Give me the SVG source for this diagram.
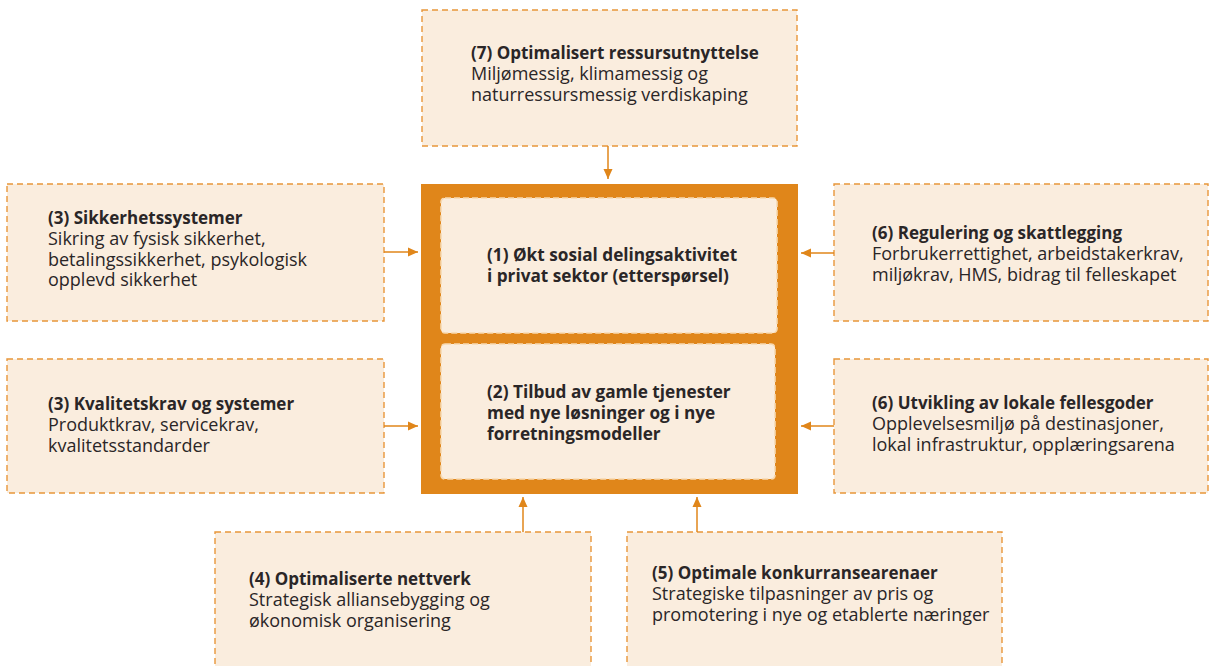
<svg xmlns="http://www.w3.org/2000/svg" width="1211" height="666" viewBox="0 0 1211 666">
<defs>
<style>
.box{fill:#FAEDDE;stroke:#E8963A;stroke-width:1.4;stroke-dasharray:6 4}
.inner{fill:#FAEDDE;stroke:#F7D9B0;stroke-width:1.6;stroke-dasharray:6 3}
.frame{fill:#E0861A}
.t{font-family:"Open Sans","Liberation Sans",sans-serif;font-size:18px;fill:#2A2627}
.b{font-weight:bold;font-size:17px}
.c{font-family:"Open Sans","Liberation Sans",sans-serif;font-size:17.2px;font-weight:bold;fill:#2A2627}
.conn{stroke:#E0861A;stroke-width:1.5;fill:none;marker-end:url(#ah)}
</style>
<marker id="ah" markerUnits="userSpaceOnUse" markerWidth="10" markerHeight="10" viewBox="0 0 10 10" refX="10" refY="5" orient="auto">
<path d="M0,0.5 L10,5 L0,9.5 Z" fill="#E0861A"/>
</marker>
</defs>
<rect width="1211" height="666" fill="#FFFFFF"/>

<g id="center">
<rect class="frame" x="421" y="184" width="377" height="310"/>
<g id="node1">
<rect class="inner" x="441" y="198" width="336" height="135" rx="4"/>
<text class="c" x="487" y="261">(1) Økt sosial delingsaktivitet</text>
<text class="c" x="487" y="282">i privat sektor (etterspørsel)</text>
</g>
<g id="node2">
<rect class="inner" x="441" y="344" width="334" height="135" rx="4"/>
<text class="c" x="487" y="398">(2) Tilbud av gamle tjenester</text>
<text class="c" x="487" y="419">med nye løsninger og i nye</text>
<text class="c" x="487" y="440">forretningsmodeller</text>
</g>
</g>

<g id="node7">
<rect class="box" x="422" y="10" width="375" height="136"/>
<text class="t b" x="471" y="59">(7) Optimalisert ressursutnyttelse</text>
<text class="t" x="471" y="80">Miljømessig, klimamessig og</text>
<text class="t" x="471" y="101">naturressursmessig verdiskaping</text>
</g>

<g id="node3a">
<rect class="box" x="7" y="184" width="377" height="137"/>
<text class="t b" x="48" y="224">(3) Sikkerhetssystemer</text>
<text class="t" x="48" y="245">Sikring av fysisk sikkerhet,</text>
<text class="t" x="48" y="266">betalingssikkerhet, psykologisk</text>
<text class="t" x="48" y="286">opplevd sikkerhet</text>
</g>

<g id="node3b">
<rect class="box" x="7" y="359" width="377" height="134"/>
<text class="t b" x="48" y="410">(3) Kvalitetskrav og systemer</text>
<text class="t" x="48" y="431">Produktkrav, servicekrav,</text>
<text class="t" x="48" y="452">kvalitetsstandarder</text>
</g>

<g id="node6a">
<rect class="box" x="834" y="184" width="374" height="137"/>
<text class="t b" x="872" y="239">(6) Regulering og skattlegging</text>
<text class="t" x="872" y="260">Forbrukerrettighet, arbeidstakerkrav,</text>
<text class="t" x="872" y="281">miljøkrav, HMS, bidrag til felleskapet</text>
</g>

<g id="node6b">
<rect class="box" x="834" y="359" width="374" height="134"/>
<text class="t b" x="872" y="409">(6) Utvikling av lokale fellesgoder</text>
<text class="t" x="872" y="430">Opplevelsesmiljø på destinasjoner,</text>
<text class="t" x="872" y="451">lokal infrastruktur, opplæringsarena</text>
</g>

<g id="node4">
<rect class="box" x="215" y="532" width="376" height="150"/>
<text class="t b" x="249" y="585">(4) Optimaliserte nettverk</text>
<text class="t" x="249" y="606">Strategisk alliansebygging og</text>
<text class="t" x="249" y="627">økonomisk organisering</text>
</g>

<g id="node5">
<rect class="box" x="627" y="532" width="375" height="150"/>
<text class="t b" x="652" y="579">(5) Optimale konkurransearenaer</text>
<text class="t" x="652" y="600">Strategiske tilpasninger av pris og</text>
<text class="t" x="652" y="621">promotering i nye og etablerte næringer</text>
</g>

<g id="connectors">
<line class="conn" x1="608" y1="146" x2="608" y2="179"/>
<line class="conn" x1="384" y1="252" x2="418" y2="252"/>
<line class="conn" x1="384" y1="426" x2="418" y2="426"/>
<line class="conn" x1="834" y1="253" x2="801" y2="253"/>
<line class="conn" x1="834" y1="426" x2="801" y2="426"/>
<line class="conn" x1="523" y1="532" x2="523" y2="497"/>
<line class="conn" x1="697" y1="532" x2="697" y2="497"/>
</g>
</svg>
